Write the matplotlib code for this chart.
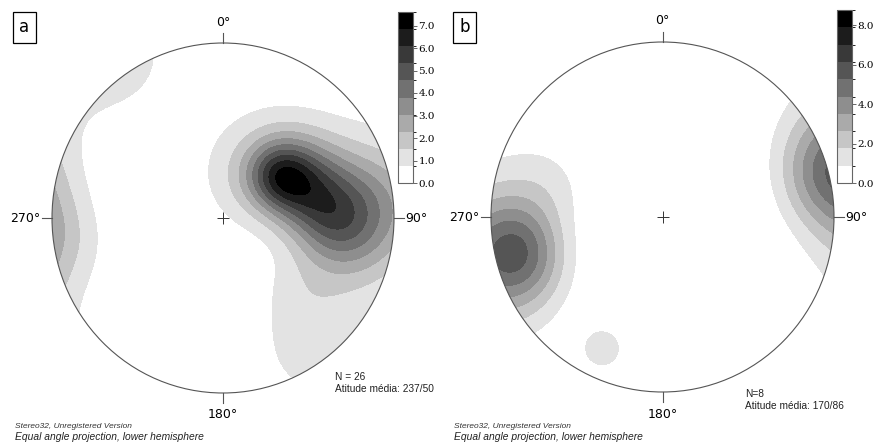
import numpy as np
import matplotlib.pyplot as plt
from matplotlib.patches import Circle
from matplotlib.colors import ListedColormap, BoundaryNorm

W, H = 877, 443

# density clusters: trend (deg), plunge (deg), peak density, concentration
a_trend = [55, 40, 78, 95, 262, 132, 145]
a_plunge = [44, 55, 30, 17, 2, 27, 5]
a_peak = [4.4, 1.7, 3.6, 3.0, 0.9, 0.8, 0.9]
a_kappa = [18, 6, 12, 14, 20, 14, 13]
a_levels = np.linspace(0, 7.6, 11)
a_ticks = [0.0, 1.0, 2.0, 3.0, 4.0, 5.0, 6.0, 7.0]

b_trend = [256, 283, 205]
b_plunge = [5, 18, 11]
b_peak = [5.6, 1.1, 1.5]
b_kappa = [16, 14, 90]
b_levels = np.linspace(0, 8.76, 11)
b_ticks = [0.0, 2.0, 4.0, 6.0, 8.0]

grays = [str(1 - i / 9) for i in range(10)]
cmap = ListedColormap(grays)


def density(trends, plunges, peaks, kappas, x, y):
    r = np.hypot(x, y)
    pl = np.pi / 2 - 2 * np.arctan(r)
    tr = np.arctan2(x, y)
    v = np.stack([np.cos(pl) * np.sin(tr), np.cos(pl) * np.cos(tr), -np.sin(pl)])
    d = np.zeros_like(x)
    for t, p, w, k in zip(trends, plunges, peaks, kappas):
        t, p = np.radians(t), np.radians(p)
        c = np.array([np.cos(p) * np.sin(t), np.cos(p) * np.cos(t), -np.sin(p)])
        dot = np.abs(np.tensordot(c, v, axes=1))
        d += w * np.exp(k * (dot - 1))
    return d


def fax(fig, left, top, w, h):
    return fig.add_axes([left / W, 1 - (top + h) / H, w / W, h / H])


fig = plt.figure(figsize=(W / 100, H / 100), dpi=100)

panels = [
    dict(cx=223, cy=218, rx=171, ry=175, tr=a_trend, pl=a_plunge, pk=a_peak, kp=a_kappa,
         lev=a_levels, ticks=a_ticks, cbar=(398, 12, 15, 171), box=(12, 13), letter="a",
         n="N = 26", att="Atitude média: 237/50", ntxt=(335, 377)),
    dict(cx=662.5, cy=217, rx=171.5, ry=175, tr=b_trend, pl=b_plunge, pk=b_peak, kp=b_kappa,
         lev=b_levels, ticks=b_ticks, cbar=(837, 10, 15, 173), box=(452, 13), letter="b",
         n="N=8", att="Atitude média: 170/86", ntxt=(745, 394)),
]

for P in panels:
    ax = fax(fig, P["cx"] - P["rx"], P["cy"] - P["ry"], 2 * P["rx"], 2 * P["ry"])
    ax.set_xlim(-1, 1)
    ax.set_ylim(-1, 1)
    ax.axis("off")
    xs = np.linspace(-1.02, 1.02, 360)
    X, Y = np.meshgrid(xs, xs)
    D = density(P["tr"], P["pl"], P["pk"], P["kp"], X, Y)
    D = np.minimum(D, P["lev"][-1] - 1e-6)
    norm = BoundaryNorm(P["lev"], cmap.N)
    cs = ax.contourf(X, Y, D, levels=P["lev"], cmap=cmap, norm=norm)
    clip = Circle((0, 0), 1, transform=ax.transData)
    cs.set_clip_path(clip)
    ax.add_patch(Circle((0, 0), 1, fill=False, ec="#555555", lw=0.8, clip_on=False))
    # ticks at cardinal points
    tx = 10 / P["rx"]
    ty = 10 / P["ry"]
    kw = dict(color="#555555", lw=0.8, clip_on=False)
    ax.plot([0, 0], [1, 1 + ty], **kw)
    ax.plot([0, 0], [-1, -1 - ty], **kw)
    ax.plot([1, 1 + tx], [0, 0], **kw)
    ax.plot([-1, -1 - tx], [0, 0], **kw)
    ax.plot(0, 0, marker="+", ms=8, mew=0.7, color="#333333")
    fs = 9
    ax.text(0, 1 + 21 / P["ry"], "0°", ha="center", va="center", fontsize=fs)
    ax.text(0, -1 - 22 / P["ry"], "180°", ha="center", va="center", fontsize=fs)
    ax.text(1 + 11 / P["rx"], 0, "90°", ha="left", va="center", fontsize=fs)
    ax.text(-1 - 12 / P["rx"], 0, "270°", ha="right", va="center", fontsize=fs)

    # colorbar
    l, t, w, h = P["cbar"]
    cax = fax(fig, l, t, w, h)
    cb = fig.colorbar(cs, cax=cax, ticks=P["ticks"])
    cb.outline.set_edgecolor("#666666")
    cb.outline.set_linewidth(0.8)
    cax.tick_params(length=3, width=0.7, color="#666666", pad=1, labelsize=7.5)
    cax.set_yticklabels([f"{v:.1f}" for v in P["ticks"]])
    for lab in cax.get_yticklabels():
        lab.set_family("DejaVu Serif")

    # letter box
    bx, by = P["box"]
    fig.text((bx + 12.5) / W, 1 - (by + 14.5) / H, P["letter"], ha="center", va="center",
             fontsize=12, bbox=dict(boxstyle="square,pad=0.4", fc="white", ec="black", lw=0.9))

    nx, ny = P["ntxt"]
    fig.text(nx / W, 1 - ny / H, P["n"], ha="left", va="center", fontsize=7.3,
             family="Liberation Sans", color="#222222")
    fig.text(nx / W, 1 - (ny + 12) / H, P["att"], ha="left", va="center", fontsize=7.3,
             family="Liberation Sans", color="#222222")

    x0 = P["cx"] - 208
    fig.text(x0 / W, 1 - 427 / H, "Stereo32, Unregistered Version", ha="left", va="center",
             fontsize=6, style="italic", family="Liberation Sans", color="#333333")
    fig.text(x0 / W, 1 - 437 / H, "Equal angle projection, lower hemisphere", ha="left",
             va="center", fontsize=7.4, style="italic", family="Liberation Sans", color="#222222")

fig.savefig("out.png", dpi=100)
